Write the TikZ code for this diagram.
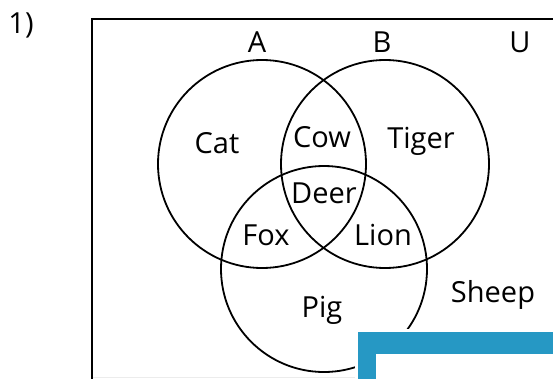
\documentclass[tikz,border=0pt]{standalone}
\usepackage{fontspec}
\setmainfont{Open Sans}
\definecolor{frameblue}{RGB}{38,152,196}
\tikzset{lbl/.style={font=\fontsize{29}{34}\selectfont,inner sep=0pt,anchor=base}}
\begin{document}
\begin{tikzpicture}[x=1pt,y=-1pt]
 \useasboundingbox (0,0) rectangle (553,378);
 \clip (0,0) rectangle (553,378);
 \draw[line width=2.3pt](92,400)--(92,19)--(600,19);
 \draw[line width=1.8pt](262,164) circle[radius=104pt];
 \draw[line width=1.8pt](385,164) circle[radius=104pt];
 \draw[line width=1.8pt](324,269) circle[radius=103pt];
 \draw[gray!15,line width=1pt](93,377)--(355,377);
 % blue frame in the corner
 \fill[white](355,329) rectangle (560,380);
 \fill[frameblue](358,332) rectangle (560,380);
 \fill[white](376,354) rectangle (560,380);
 \node[lbl] (num) at (21,33) {1)};
 \node[lbl] (setA) at (257,52) {A};
 \node[lbl] (setB) at (382,52) {B};
 \node[lbl] (setU) at (520,52) {U};
 \node[lbl] (cat) at (217,153) {Cat};
 \node[lbl] (cow) at (322,147) {Cow};
 \node[lbl] (tiger) at (421,148) {Tiger};
 \node[lbl] (deer) at (324,203) {Deer};
 \node[lbl] (fox) at (266,245) {Fox};
 \node[lbl] (lion) at (383,245) {Lion};
 \node[lbl] (pig) at (322,317) {Pig};
 \node[lbl] (sheep) at (493,302) {Sheep};
\end{tikzpicture}
\end{document}
